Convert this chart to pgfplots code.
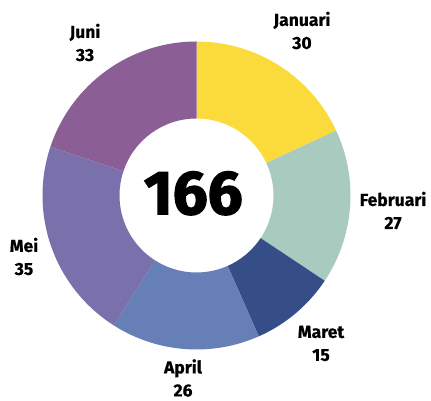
\documentclass[border=0pt]{standalone}
\usepackage{pgfplots}
\usepackage{pgfplotstable}
\pgfplotsset{compat=1.18}
\usepackage{fontspec}
\setmainfont{Fira Sans}
\newfontfamily\labelfont{Fira Sans}[BoldFeatures={FakeBold=0.6}]
\newfontfamily\heavyfont{Fira Sans}[BoldFeatures={FakeBold=2.2}]
\definecolor{c0}{HTML}{FBDB3C}
\definecolor{c1}{HTML}{A9CBBF}
\definecolor{c2}{HTML}{354E87}
\definecolor{c3}{HTML}{667FB6}
\definecolor{c4}{HTML}{7A70AB}
\definecolor{c5}{HTML}{8B5F96}
\pgfplotstableread[col sep=comma]{
label,value,lx,ly
Januari,30,302,370.5
Februari,27,393,190.5
Maret,15,321,57.5
April,26,183,23
Mei,35,24,144.5
Juni,33,85,358.5
}\datatable
\begin{document}
\def\total{0}%
\pgfplotsforeachungrouped \i in {0,...,5}{%
  \pgfplotstablegetelem{\i}{value}\of\datatable
  \pgfmathsetmacro\t{\total+\pgfplotsretval}\let\total\t}%
\def\cum{0}%
\pgfplotsforeachungrouped \i in {0,...,5}{%
  \pgfplotstablegetelem{\i}{value}\of\datatable \edef\v{\pgfplotsretval}%
  \pgfmathsetmacro\s{90-360*(\cum/\total)}%
  \pgfmathsetmacro\cumnew{\cum+\v}%
  \pgfmathsetmacro\e{90-360*(\cumnew/\total)}%
  \expandafter\edef\csname s\i\endcsname{\s}%
  \expandafter\edef\csname e\i\endcsname{\e}%
  \expandafter\edef\csname v\i\endcsname{\v}%
  \pgfplotstablegetelem{\i}{label}\of\datatable \expandafter\edef\csname l\i\endcsname{\pgfplotsretval}%
  \pgfplotstablegetelem{\i}{lx}\of\datatable \expandafter\edef\csname x\i\endcsname{\pgfplotsretval}%
  \pgfplotstablegetelem{\i}{ly}\of\datatable \expandafter\edef\csname y\i\endcsname{\pgfplotsretval}%
  \let\cum\cumnew}%
\pgfmathsetmacro\totalint{int(\total)}%
\begin{tikzpicture}
\begin{axis}[
  x=1pt, y=1pt, xmin=0, xmax=431, ymin=0, ymax=401,
  scale only axis, hide axis, clip=false]
\path (axis cs:0,0) rectangle (axis cs:431,401);
\def\cx{196.5}\def\cy{205.5}\def\ro{154}\def\ri{77}
\pgfplotsinvokeforeach{0,...,5}{%
  \fill[c#1] (axis cs:{\cx+\ri*cos(\csname s#1\endcsname)},{\cy+\ri*sin(\csname s#1\endcsname)})
    -- (axis cs:{\cx+\ro*cos(\csname s#1\endcsname)},{\cy+\ro*sin(\csname s#1\endcsname)})
    arc[start angle=\csname s#1\endcsname, end angle=\csname e#1\endcsname, radius=\ro pt]
    -- (axis cs:{\cx+\ri*cos(\csname e#1\endcsname)},{\cy+\ri*sin(\csname e#1\endcsname)})
    arc[start angle=\csname e#1\endcsname, end angle=\csname s#1\endcsname, radius=\ri pt]
    -- cycle;
  \node[align=center, font=\labelfont\fontsize{17.5}{23}\selectfont\bfseries, inner sep=0pt]
    at (axis cs:\csname x#1\endcsname,\csname y#1\endcsname)
    {\csname l#1\endcsname\\\csname v#1\endcsname};
}
\node[font=\heavyfont\fontsize{62}{62}\selectfont\bfseries, inner sep=0pt] at (axis cs:193.3,207.7) {\totalint};
\end{axis}
\end{tikzpicture}
\end{document}
